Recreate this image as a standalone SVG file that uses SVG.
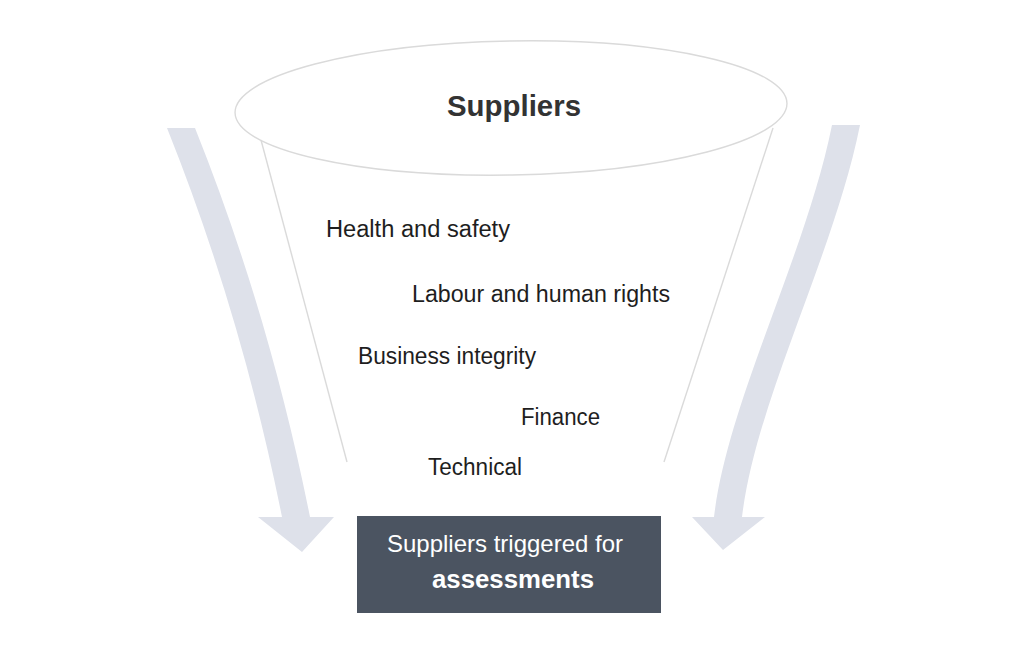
<svg xmlns="http://www.w3.org/2000/svg" width="1021" height="646" viewBox="0 0 1021 646">
  <style>
    .lbl { font-family: "Liberation Sans", Arial, sans-serif; font-size: 23.5px; fill: #1e1e1e; }
    .title { font-family: "Liberation Sans", Arial, sans-serif; font-size: 29px; font-weight: bold; fill: #333333; }
    .boxtxt { font-family: "Liberation Sans", Arial, sans-serif; font-size: 24px; fill: #ffffff; }
    .boxbold { font-family: "Liberation Sans", Arial, sans-serif; font-size: 25px; font-weight: bold; fill: #ffffff; }
    .arrow { fill: #dee1ea; }
    .funnel { fill: none; stroke: #dadada; stroke-width: 1.4; }
  </style>
  <rect width="1021" height="646" fill="#ffffff"/>

  <g id="connectors">
    <path class="arrow" d="M167,128 C219,258 256,387 282,517 L258,517 L302,552 L334,517 L310,517 C284,387 247,258 195,128 Z"/>
    <path class="arrow" d="M860,125 C834,255 756,400 742,517 L765,517 L723,550 L692,517 L714,517 C728,400 806,255 832,125 Z"/>
    <path class="funnel" d="M261,140 L347,462"/>
    <path class="funnel" d="M773,128 L664,462"/>
  </g>

  <g id="suppliers">
    <ellipse class="funnel" cx="511" cy="108" rx="276" ry="67" fill="#ffffff" transform="rotate(-1 511 108)"/>
    <text class="title" x="514" y="116" text-anchor="middle" textLength="134" lengthAdjust="spacingAndGlyphs">Suppliers</text>
  </g>

  <g id="health-safety">
    <text class="lbl" x="326" y="237" textLength="184" lengthAdjust="spacingAndGlyphs">Health and safety</text>
  </g>
  <g id="labour-human-rights">
    <text class="lbl" x="412" y="302" textLength="258" lengthAdjust="spacingAndGlyphs">Labour and human rights</text>
  </g>
  <g id="business-integrity">
    <text class="lbl" x="358" y="364" textLength="178" lengthAdjust="spacingAndGlyphs">Business integrity</text>
  </g>
  <g id="finance">
    <text class="lbl" x="521" y="425" textLength="79" lengthAdjust="spacingAndGlyphs">Finance</text>
  </g>
  <g id="technical">
    <text class="lbl" x="428" y="475" textLength="94" lengthAdjust="spacingAndGlyphs">Technical</text>
  </g>

  <g id="triggered">
    <rect x="357" y="516" width="304" height="97" fill="#4b5461"/>
    <text class="boxtxt" x="387" y="552" textLength="236" lengthAdjust="spacingAndGlyphs">Suppliers triggered for</text>
    <text class="boxbold" x="432" y="588" textLength="162" lengthAdjust="spacingAndGlyphs">assessments</text>
  </g>
</svg>
